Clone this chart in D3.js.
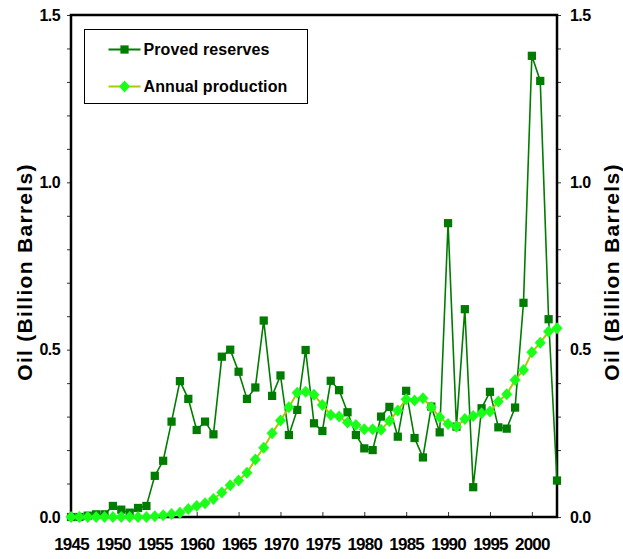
<!DOCTYPE html>
<html>
<head>
<meta charset="utf-8">
<script src="https://cdn.jsdelivr.net/npm/d3@7"></script>
<style>
  body { margin: 0; background: #fff; }
  svg text { font-family: "Liberation Sans", Arial, sans-serif; font-weight: bold; fill: #000; }
</style>
</head>
<body>
<div id="chart"></div>
<script>
// years on the category axis
var years = [1945, 1946, 1947, 1948, 1949, 1950, 1951, 1952, 1953, 1954,
  1955, 1956, 1957, 1958, 1959, 1960, 1961, 1962, 1963, 1964,
  1965, 1966, 1967, 1968, 1969, 1970, 1971, 1972, 1973, 1974,
  1975, 1976, 1977, 1978, 1979, 1980, 1981, 1982, 1983, 1984,
  1985, 1986, 1987, 1988, 1989, 1990, 1991, 1992, 1993, 1994,
  1995, 1996, 1997, 1998, 1999, 2000, 2001, 2002, 2003];

// proved reserves (billion barrels)
var reserves = [0.000, 0.000, 0.004, 0.008, 0.008, 0.033, 0.022, 0.013, 0.027, 0.033,
  0.123, 0.168, 0.285, 0.406, 0.353, 0.260, 0.285, 0.247, 0.479, 0.500,
  0.434, 0.353, 0.387, 0.587, 0.362, 0.423, 0.245, 0.320, 0.499, 0.280,
  0.257, 0.407, 0.379, 0.313, 0.245, 0.205, 0.200, 0.300, 0.329, 0.240,
  0.377, 0.236, 0.178, 0.330, 0.253, 0.878, 0.270, 0.621, 0.089, 0.325,
  0.374, 0.268, 0.264, 0.327, 0.640, 1.378, 1.303, 0.591, 0.109];

// annual production (billion barrels)
var production = [0.000, 0.000, 0.000, 0.000, 0.000, 0.000, 0.000, 0.000, 0.000, 0.000,
  0.002, 0.005, 0.009, 0.013, 0.024, 0.033, 0.041, 0.054, 0.073, 0.095,
  0.109, 0.132, 0.172, 0.207, 0.250, 0.288, 0.328, 0.371, 0.374, 0.365,
  0.335, 0.305, 0.300, 0.282, 0.275, 0.262, 0.262, 0.261, 0.287, 0.318,
  0.352, 0.348, 0.355, 0.328, 0.298, 0.278, 0.270, 0.293, 0.302, 0.310,
  0.315, 0.345, 0.367, 0.409, 0.439, 0.492, 0.521, 0.554, 0.564];

var xTickYears = [1945, 1950, 1955, 1960, 1965, 1970, 1975, 1980, 1985, 1990, 1995, 2000];
var yTicks = [0, 0.1, 0.2, 0.3, 0.4, 0.5, 0.6, 0.7, 0.8, 0.9, 1.0, 1.1, 1.2, 1.3, 1.4, 1.5];
var yLabelTicks = [0, 0.5, 1.0, 1.5];

var seriesNames = ["Proved reserves", "Annual production"];

var W = 623, H = 559;
var margin = {top: 15, right: 66, bottom: 42, left: 71};

var svg = d3.select("#chart").append("svg")
    .attr("width", W)
    .attr("height", H);

var x = d3.scaleLinear().domain([1945, 2003]).range([margin.left, W - margin.right]);
var y = d3.scaleLinear().domain([0, 1.5]).range([H - margin.bottom, margin.top]);

var fmt = d3.format(".1f");
var yLabel = function (d) {
    return yLabelTicks.some(function (t) { return Math.abs(t - d) < 1e-6; }) ? fmt(d) : "";
};

// left axis
var leftAxis = svg.append("g")
    .attr("transform", "translate(" + margin.left + ",0)")
    .call(d3.axisLeft(y).tickValues(yTicks).tickSize(4).tickPadding(7).tickFormat(yLabel));

// right axis
var rightAxis = svg.append("g")
    .attr("transform", "translate(" + (W - margin.right) + ",0)")
    .call(d3.axisRight(y).tickValues(yTicks).tickSize(4).tickPadding(9).tickFormat(yLabel));

// bottom axis, ticks point inward
var bottomAxis = svg.append("g")
    .attr("transform", "translate(0," + (H - margin.bottom) + ")")
    .call(d3.axisBottom(x).tickValues(xTickYears).tickSize(-5).tickPadding(21).tickFormat(d3.format("d")));

bottomAxis.selectAll(".tick line").filter(function (d) { return d === 1945; }).remove();

[leftAxis, rightAxis].forEach(function (g) {
    g.selectAll("text").attr("font-size", 16).attr("letter-spacing", "-0.6px");
});
bottomAxis.selectAll("text").attr("font-size", 17).attr("letter-spacing", "-0.8px");

[leftAxis, rightAxis, bottomAxis].forEach(function (g) {
    g.select(".domain").remove();
    g.selectAll(".tick line").attr("stroke", "#333").attr("stroke-width", 1);
});

// frame
svg.append("rect")
    .attr("x", x(1945))
    .attr("y", y(1.5))
    .attr("width", x(2003) - x(1945))
    .attr("height", y(0) - y(1.5))
    .attr("fill", "none")
    .attr("stroke", "#000")
    .attr("stroke-width", 2.5);

// axis titles
var titleY = (y(0) + y(1.5)) / 2 + 6;
[24, 611].forEach(function (tx) {
    svg.append("text")
        .attr("transform", "translate(" + tx + "," + titleY + ") rotate(-90)")
        .attr("text-anchor", "middle")
        .attr("dominant-baseline", "central")
        .attr("font-size", 21)
        .attr("letter-spacing", "1.3px")
        .text("Oil (Billion Barrels)");
});

var resData = years.map(function (d, i) { return {year: d, v: reserves[i]}; });
var prodData = years.map(function (d, i) { return {year: d, v: production[i]}; });

var line = d3.line()
    .x(function (d) { return x(d.year); })
    .y(function (d) { return y(d.v); });

var resColor = "#007d00", prodLine = "#a8cc00", prodMark = "#1aff1a";

// marker shapes
var square = d3.symbol().type(d3.symbolSquare).size(68);
var diamondType = {
    draw: function (ctx) {
        ctx.moveTo(0, -6);
        ctx.lineTo(5.5, 0);
        ctx.lineTo(0, 6);
        ctx.lineTo(-5.5, 0);
        ctx.closePath();
    }
};
var diamond = d3.symbol().type(diamondType);

// proved reserves
svg.append("path")
    .datum(resData)
    .attr("d", line)
    .attr("fill", "none")
    .attr("stroke", resColor)
    .attr("stroke-width", 1.6);

svg.append("g").selectAll("path")
    .data(resData)
    .enter()
    .append("path")
    .attr("d", square)
    .attr("transform", function (d) { return "translate(" + x(d.year) + "," + y(d.v) + ")"; })
    .attr("fill", resColor);

// annual production
svg.append("path")
    .datum(prodData)
    .attr("d", line)
    .attr("fill", "none")
    .attr("stroke", prodLine)
    .attr("stroke-width", 2);

svg.append("g").selectAll("path")
    .data(prodData)
    .enter()
    .append("path")
    .attr("d", diamond)
    .attr("transform", function (d) { return "translate(" + x(d.year) + "," + y(d.v) + ")"; })
    .attr("fill", prodMark);

// legend
var legend = svg.append("g").attr("transform", "translate(84.5,29.5)");
legend.append("rect")
    .attr("width", 223)
    .attr("height", 74)
    .attr("fill", "#fff")
    .attr("stroke", "#000")
    .attr("stroke-width", 1);

var legendRows = [
    {name: seriesNames[0], y: 20, line: resColor, mark: resColor, sym: square},
    {name: seriesNames[1], y: 57, line: prodLine, mark: prodMark, sym: diamond}
];

var rows = legend.selectAll(".row")
    .data(legendRows)
    .enter()
    .append("g")
    .attr("class", "row")
    .attr("transform", function (d) { return "translate(0," + d.y + ")"; });

rows.append("line")
    .attr("x1", 24).attr("x2", 56)
    .attr("stroke", function (d) { return d.line; })
    .attr("stroke-width", 2);

rows.append("path")
    .attr("d", function (d) { return d.sym(); })
    .attr("transform", "translate(40,0)")
    .attr("fill", function (d) { return d.mark; });

rows.append("text")
    .attr("x", 59)
    .attr("dominant-baseline", "central")
    .attr("font-size", 16)
    .attr("letter-spacing", "0.1px")
    .text(function (d) { return d.name; });
</script>
</body>
</html>
